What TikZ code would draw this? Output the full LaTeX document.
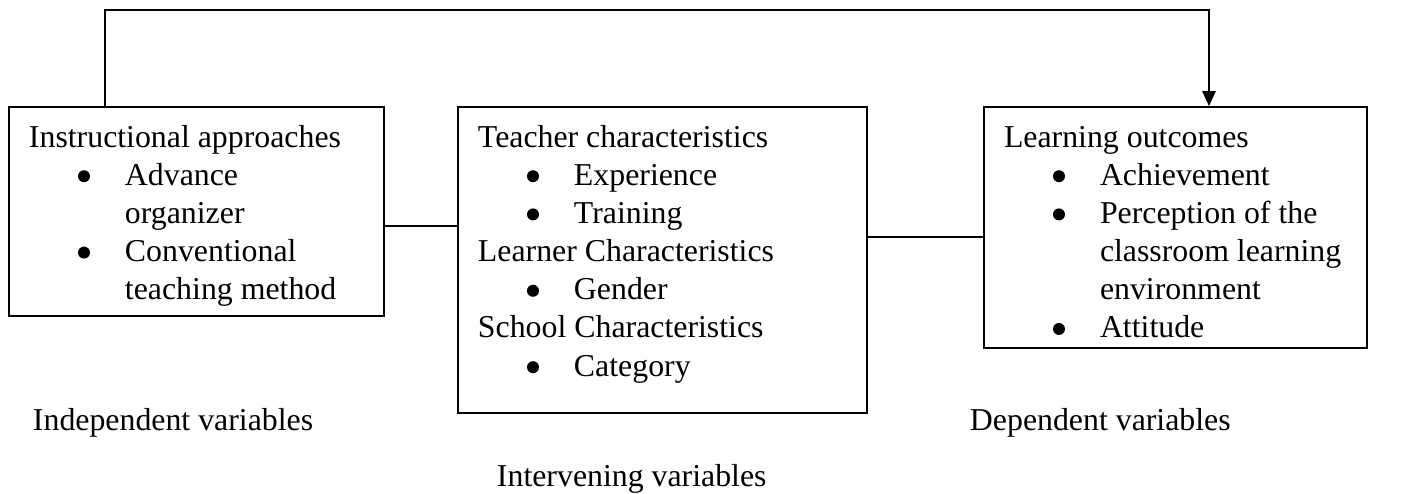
\documentclass[tikz,border=0pt]{standalone}
\usepackage{fontspec}
\setmainfont{Liberation Serif}
\usetikzlibrary{arrows.meta}
\newlength\px
\setlength\px{0.377pt}
% box body: width, height (px), text
\newcommand{\boxtext}[3]{\parbox[c][#2\px][t]{#1\px}{\raggedright\rule{0pt}{40\px}#3}}
\newcommand{\dotmark}{\tikz[baseline=-9\px]\fill (0,0) circle (6\px);}
\newcommand{\itm}[1]{\par\hangindent=96\px\hangafter=1\noindent\hspace*{49\px}\makebox[47\px][l]{\dotmark}#1}
\newcommand{\nl}{\hfil\break}
\tikzset{
  varbox/.style={draw,line width=0.75pt,anchor=north west,inner xsep=20\px,inner ysep=0pt,font=\fontsize{12}{14.4}\selectfont},
  vlabel/.style={inner sep=0pt,anchor=base west,font=\fontsize{12}{14.4}\selectfont}
}
\begin{document}
\begin{tikzpicture}[x=1\px,y=-1\px,line width=0.75pt]
  \useasboundingbox (0,0) rectangle (1407,493);

  \node[varbox] (inst) at (8,106) {\boxtext{335}{209}{Instructional approaches
    \itm{Advance\nl organizer}
    \itm{Conventional\nl teaching method}}};
  \node[varbox] (inter) at (457,106) {\boxtext{369}{306}{Teacher characteristics
    \itm{Experience}
    \itm{Training}
    \par Learner Characteristics
    \itm{Gender}
    \par School Characteristics
    \itm{Category}}};
  \node[varbox] (outc) at (983,106) {\boxtext{343}{241}{Learning outcomes
    \itm{Achievement}
    \itm{Perception of the\nl classroom learning\nl environment}
    \itm{Attitude}}};

  \draw ([yshift=-14.5\px]inst.east) coordinate (ia) -- (ia -| inter.west);
  \draw ([yshift=-9.5\px]outc.west) coordinate (oa) -- (oa -| inter.east);

  \coordinate (top) at (0,10);
  \coordinate (from) at ([xshift=-91.5\px]inst.north);
  \coordinate (to) at ([xshift=33.5\px]outc.north);
  \draw[-{Triangle[width=5pt,length=5.6pt]}] (from) |- (top -| to) -- (to);

  \node[vlabel] (indep) at (32,430) {Independent variables};
  \node[vlabel] (dep) at (969,430) {Dependent variables};
  \node[vlabel] (interv) at (496,486) {Intervening variables};
\end{tikzpicture}
\end{document}
